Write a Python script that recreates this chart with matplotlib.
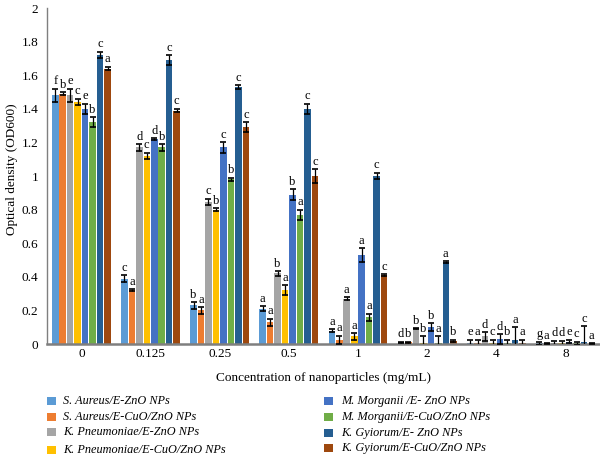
import matplotlib
matplotlib.use("Agg")
import matplotlib.pyplot as plt
import numpy as np
from matplotlib.patches import Rectangle

plt.rcParams['font.family'] = ['Liberation Serif', 'DejaVu Serif']

concentrations = ["0", "0.125", "0.25", "0.5", "1", "2", "4", "8"]

series_names = [
    "S. Aureus/E-ZnO NPs",
    "S. Aureus/E-CuO/ZnO NPs",
    "K. Pneumoniae/E-ZnO NPs",
    "K. Pneumoniae/E-CuO/ZnO NPs",
    "M. Morganii /E- ZnO NPs",
    "M. Morganii/E-CuO/ZnO NPs",
    "K. Gyiorum/E- ZnO NPs",
    "K. Gyiorum/E-CuO/ZnO NPs",
]
colors = ["#5B9BD5", "#ED7D31", "#A5A5A5", "#FFC000",
          "#4472C4", "#70AD47", "#255E91", "#9E480E"]

sa_zno = [1.48, 0.39, 0.23, 0.21, 0.08, 0.010, 0.005, 0.005]
sa_zno_err = [0.04, 0.02, 0.02, 0.015, 0.01, 0.003, 0.02, 0.01]
sa_cuo = [1.49, 0.32, 0.20, 0.13, 0.025, 0.012, 0.005, 0.003]
sa_cuo_err = [0.01, 0.005, 0.02, 0.02, 0.025, 0.003, 0.02, 0.003]
kp_zno = [1.48, 1.17, 0.845, 0.42, 0.27, 0.093, 0.045, 0.005]
kp_zno_err = [0.04, 0.02, 0.02, 0.015, 0.01, 0.003, 0.025, 0.015]
kp_cuo = [1.44, 1.12, 0.80, 0.32, 0.045, 0.005, 0.005, 0.005]
kp_cuo_err = [0.02, 0.02, 0.01, 0.03, 0.02, 0.04, 0.02, 0.015]
mm_zno = [1.40, 1.22, 1.17, 0.89, 0.53, 0.10, 0.03, 0.015]
mm_zno_err = [0.03, 0.005, 0.03, 0.03, 0.04, 0.025, 0.03, 0.01]
mm_cuo = [1.32, 1.17, 0.98, 0.77, 0.16, 0.005, 0.005, 0.005]
mm_cuo_err = [0.03, 0.02, 0.01, 0.03, 0.02, 0.04, 0.02, 0.01]
kg_zno = [1.72, 1.69, 1.53, 1.40, 1.00, 0.49, 0.025, 0.01]
kg_zno_err = [0.02, 0.03, 0.01, 0.03, 0.02, 0.005, 0.075, 0.095]
kg_cuo = [1.64, 1.39, 1.29, 1.00, 0.41, 0.02, 0.005, 0.003]
kg_cuo_err = [0.01, 0.01, 0.03, 0.04, 0.005, 0.005, 0.02, 0.002]

letters_0 = ["f", "b", "e", "c", "e", "b", "c", "a"]
letters_0125 = ["c", "a", "d", "c", "d", "b", "c", "c"]
letters_025 = ["b", "a", "c", "b", "c", "b", "c", "c"]
letters_05 = ["a", "a", "b", "a", "b", "a", "c", "c"]
letters_1 = ["a", "a", "a", "a", "a", "a", "c", "c"]
letters_2 = ["d", "b", "b", "b", "b", "a", "a", "b"]
letters_4 = ["e", "a", "d", "c", "d", "b", "a", "a"]
letters_8 = ["g", "a", "d", "d", "e", "c", "c", "a"]

values = [sa_zno, sa_cuo, kp_zno, kp_cuo, mm_zno, mm_cuo, kg_zno, kg_cuo]
errors = [sa_zno_err, sa_cuo_err, kp_zno_err, kp_cuo_err,
          mm_zno_err, mm_cuo_err, kg_zno_err, kg_cuo_err]
letters_by_group = [letters_0, letters_0125, letters_025, letters_05,
                    letters_1, letters_2, letters_4, letters_8]

fig = plt.figure(figsize=(6.0, 4.59), dpi=100)
ax = fig.add_axes([0.078, 0.2505, 0.922, 0.732])

x = np.arange(len(concentrations))
slot = 0.108
bw = 0.095
n = len(values)
for i, (vals, errs, col) in enumerate(zip(values, errors, colors)):
    pos = x + (i - (n - 1) / 2) * slot
    ax.bar(pos, vals, width=bw, color=col, zorder=2)
    ax.errorbar(pos, vals, yerr=errs, fmt='none', ecolor='black',
                elinewidth=0.9, capsize=2.5, capthick=1.2, zorder=3)
    for j in range(len(concentrations)):
        ax.text(pos[j], vals[j] + errs[j] + 0.008, letters_by_group[j][i],
                ha='center', va='bottom', fontsize=9, zorder=4)

ax.set_xlim(-0.5, 7.5)
ax.set_ylim(0, 2)
ax.set_yticks(np.arange(0, 2.01, 0.2))
ax.set_yticklabels(["0", "0.2", "0.4", "0.6", "0.8", "1", "1.2", "1.4",
                    "1.6", "1.8", "2"])
ax.set_xticks(x)
ax.set_xticklabels(concentrations)
ax.tick_params(axis='both', length=0, labelsize=9.5)
ax.tick_params(axis='y', pad=6)
ax.tick_params(axis='x', pad=3)
for s in ['top', 'right']:
    ax.spines[s].set_visible(False)
ax.spines['left'].set_color('#7f7f7f')
ax.spines['left'].set_linewidth(1.0)
ax.spines['bottom'].set_color('#7f7f7f')
ax.spines['bottom'].set_linewidth(1.8)

ax.set_ylabel("Optical density (OD600)", fontsize=9.5, va='center')
ax.yaxis.set_label_coords(-0.063, 0.52)
fig.text(323 / 600, 1 - 378 / 459, "Concentration of nanoparticles (mg/mL)",
         ha='center', va='center', fontsize=9.5)

# legend (two columns)
sq_x = [47 / 600, 324 / 600]
txt_x = [63 / 600, 341 / 600]
row_y = [[401, 417, 432, 450], [401, 417, 433, 448]]
sq = 8.5
for k, (name, col) in enumerate(zip(series_names, colors)):
    c = k // 4
    r = k % 4
    yc = 1 - row_y[c][r] / 459
    fig.patches.append(Rectangle((sq_x[c], yc - (sq / 2) / 459), sq / 600, sq / 459,
                                 transform=fig.transFigure, facecolor=col,
                                 edgecolor='none', figure=fig))
    fig.text(txt_x[c], yc, name, ha='left', va='center',
             fontsize=8.8, style='italic')

fig.savefig("out.png", dpi=100)
